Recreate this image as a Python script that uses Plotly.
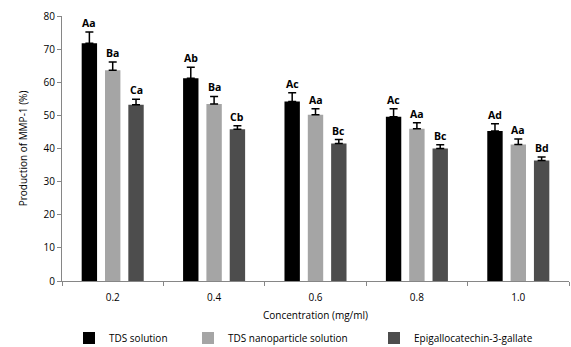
import plotly.graph_objects as go

categories = ["0.2", "0.4", "0.6", "0.8", "1.0"]
series_names = ["TDS solution", "TDS nanoparticle solution", "Epigallocatechin-3-gallate"]
tds_solution = [71.8, 61.2, 54.2, 49.6, 45.3]
tds_solution_err = [3.4, 3.3, 2.6, 2.4, 2.2]
tds_nano = [63.6, 53.4, 50.2, 46.0, 41.2]
tds_nano_err = [2.5, 2.3, 1.8, 1.8, 1.7]
egcg = [53.2, 45.8, 41.5, 40.0, 36.4]
egcg_err = [1.7, 1.1, 1.2, 1.1, 1.0]
labels_tds = ["Aa", "Ab", "Ac", "Ac", "Ad"]
labels_nano = ["Ba", "Ba", "Aa", "Aa", "Aa"]
labels_egcg = ["Ca", "Cb", "Bc", "Bc", "Bd"]
y_ticks = [0, 10, 20, 30, 40, 50, 60, 70, 80]

values = [tds_solution, tds_nano, egcg]
errors = [tds_solution_err, tds_nano_err, egcg_err]
labels = [labels_tds, labels_nano, labels_egcg]
colors = ["#000000", "#A5A5A5", "#4D4D4D"]
legend_ids = ["legend", "legend2", "legend3"]
legend_x = [69, 188, 374]

FONT = "Open Sans"

fig = go.Figure()
for name, v, e, c, lg in zip(series_names, values, errors, colors, legend_ids):
    fig.add_trace(go.Bar(
        x=categories, y=v, name=name, marker=dict(color=c, line=dict(width=0)),
        error_y=dict(type="data", array=e, arrayminus=[0] * len(e), symmetric=False,
                     color="#000000", thickness=1.5, width=4),
        legend=lg,
    ))

# bar offsets in px within each category group
cat_px = 507 / len(categories)
group = cat_px * (1 - 0.31)
slot = group / 3
offsets = [-slot, 0, slot]
annotations = []
for v, e, lab, off in zip(values, errors, labels, offsets):
    for i, (vv, ee, t) in enumerate(zip(v, e, lab)):
        annotations.append(dict(
            x=i, y=vv + ee, text=t, showarrow=False, xref="x", yref="y",
            xshift=off, yanchor="bottom", yshift=0,
            font=dict(family=FONT, size=10.5, color="#000000", weight="bold"),
        ))

legend_common = dict(orientation="h", xref="container", yref="container",
                     yanchor="middle", xanchor="left",
                     font=dict(family=FONT, size=10, color="#000000"),
                     bgcolor="rgba(0,0,0,0)", borderwidth=0, itemwidth=30)
layout_legends = {}
for lg, lx in zip(legend_ids, legend_x):
    layout_legends[lg] = dict(legend_common, x=lx / 571, y=1 - 338 / 347)

fig.update_layout(
    width=571, height=347,
    margin=dict(l=62, r=2, t=16, b=66, autoexpand=False),
    plot_bgcolor="white", paper_bgcolor="white",
    barmode="group", bargap=0.31, bargroupgap=0.34,
    showlegend=True,
    font=dict(family=FONT, size=10, color="#000000"),
    xaxis=dict(
        type="category", automargin=False,
        title=dict(text="Concentration (mg/ml)", font=dict(family=FONT, size=10), standoff=8),
        showline=True, linecolor="#868686", linewidth=1,
        ticks="outside", tickson="boundaries", ticklen=4, tickcolor="#868686",
        ticklabelstandoff=7,
        showgrid=False, tickfont=dict(family=FONT, size=10),
    ),
    yaxis=dict(
        automargin=False,
        title=dict(text="Production of MMP-1 (%)", font=dict(family=FONT, size=10), standoff=14),
        range=[0, 80], tickvals=y_ticks, showline=True, linecolor="#868686", linewidth=1,
        ticks="outside", ticklen=4, tickcolor="#868686", showgrid=False, zeroline=False,
        tickfont=dict(family=FONT, size=10),
    ),
    annotations=annotations,
    **layout_legends,
)

fig.write_html(
    "out.html",
    config={"displayModeBar": False},
    post_script="document.body.style.margin='0';document.body.style.overflow='hidden';",
)
